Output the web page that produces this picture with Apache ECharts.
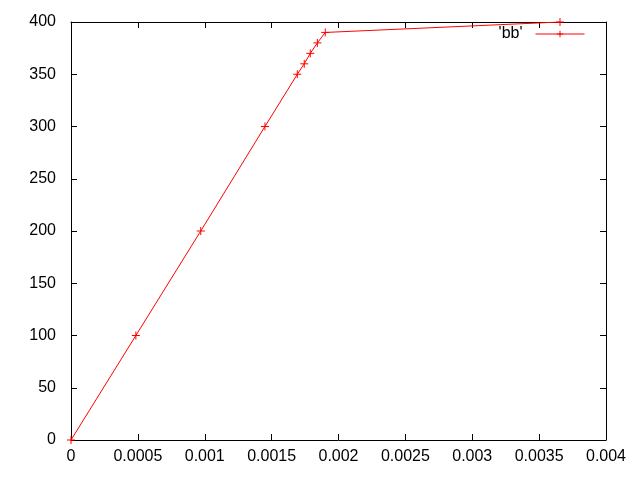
<!DOCTYPE html>
<html><head><meta charset="utf-8">
<script src="https://cdn.jsdelivr.net/npm/echarts@6/dist/echarts.min.js"></script>
<style>html,body{margin:0;padding:0;background:#fff}#c{width:640px;height:480px}</style>
</head><body><div id="c"></div>
<script>
const xValues = [0, 0.000485, 0.00097, 0.00145, 0.001692, 0.001744, 0.001789, 0.001842, 0.001901, 0.003656];
const yValues = [0, 100, 200, 300, 350, 360, 370, 380, 390, 400];
const seriesName = "'bb'";

const chart = echarts.init(document.getElementById('c'), null, {renderer: 'canvas'});
const font = {fontFamily: 'Liberation Sans, Arial, sans-serif', fontSize: 16, color: '#000'};
const plus = 'path://M0,5L10,5M5,0L5,10';
const axisCommon = {
  axisLine: {show: true, onZero: false, lineStyle: {color: '#000', width: 1}},
  axisTick: {show: true, inside: true, length: 6, lineStyle: {color: '#000'}},
  splitLine: {show: false}
};
chart.setOption({
  animation: false,
  grid: {left: 71, right: 34, top: 22, bottom: 40},
  xAxis: [
    Object.assign({type: 'value', min: 0, max: 0.004, interval: 0.0005, position: 'bottom',
      axisLabel: Object.assign({margin: 9, formatter: v => String(parseFloat(v.toFixed(4)))}, font)}, axisCommon),
    Object.assign({type: 'value', min: 0, max: 0.004, interval: 0.0005, position: 'top',
      axisLabel: {show: false}}, axisCommon)
  ],
  yAxis: [
    Object.assign({type: 'value', min: 0, max: 400, interval: 50, position: 'left',
      axisLabel: Object.assign({margin: 15}, font)}, axisCommon),
    Object.assign({type: 'value', min: 0, max: 400, interval: 50, position: 'right',
      axisLabel: {show: false}}, axisCommon)
  ],
  legend: {
    right: 55, top: 26, align: 'right', itemWidth: 49, itemHeight: 8, itemGap: 0, padding: 0,
    textStyle: Object.assign({}, font, {padding: [0, 8, 0, 0]}),
    lineStyle: {width: 1},
    itemStyle: {borderWidth: 1},
    data: [{name: seriesName}]
  },
  series: [{
    name: seriesName, type: 'line',
    data: xValues.map((x, i) => [x, yValues[i]]),
    symbol: plus, symbolSize: 8, showSymbol: true,
    lineStyle: {color: '#ff0000', width: 1},
    itemStyle: {color: 'rgba(0,0,0,0)', borderColor: '#ff0000', borderWidth: 1},
    emphasis: {disabled: true}
  }]
});
</script></body></html>
